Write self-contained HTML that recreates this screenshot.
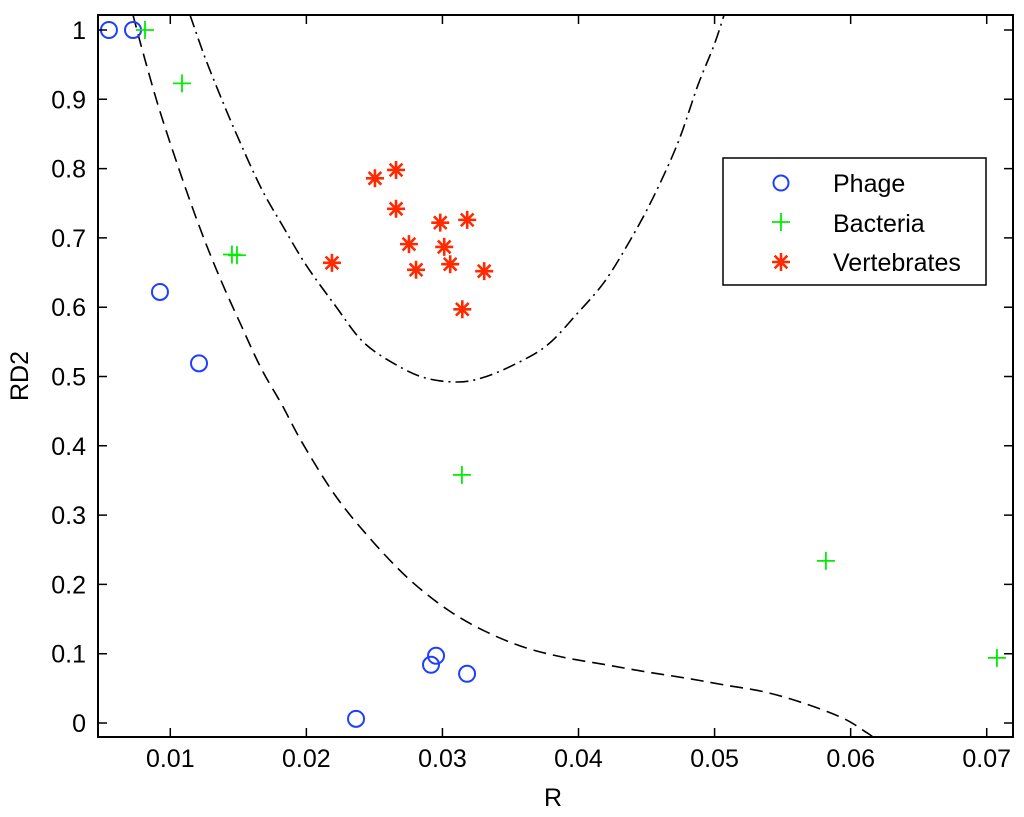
<!DOCTYPE html>
<html><head><meta charset="utf-8"><style>
body{margin:0;background:#fff;}
svg text{font-family:"Liberation Sans",Arial,sans-serif;fill:#000;}
</style></head><body>
<svg id="chart" width="1024" height="812" viewBox="0 0 1024 812" xmlns="http://www.w3.org/2000/svg">
<defs><clipPath id="clip"><rect x="98" y="15" width="915" height="722"/></clipPath></defs>
<g id="curves" clip-path="url(#clip)"></g>
<g id="marks"></g>
<g id="axes"></g>
<text x="553" y="806" font-size="25" text-anchor="middle">R</text>
<text x="0" y="0" font-size="25" text-anchor="middle" transform="translate(28,376) rotate(-90)">RD2</text>
<g>
<rect x="723" y="158" width="263" height="127" fill="#fff" stroke="#000" stroke-width="1.5"/>
<circle cx="781" cy="183" r="7.5" fill="none" stroke="#1f3fff" stroke-width="2"/>
<text x="833" y="192" font-size="25">Phage</text>
<path d="M772 222h18M781 213v18" stroke="#00ee00" stroke-width="1.8"/>
<text x="833" y="232" font-size="25">Bacteria</text>
<g id="legstar"></g>
<text x="833" y="271" font-size="25">Vertebrates</text>
</g>
</svg>
<script>
const phageX=[0.00549,0.00726,0.00924,0.01211,0.02365,0.02916,0.02953,0.03181];
const phageY=[1.0,1.0,0.622,0.519,0.006,0.084,0.097,0.071];
const bactX=[0.00814,0.01086,0.01453,0.0149,0.03143,0.05818,0.07075];
const bactY=[1.0,0.923,0.676,0.675,0.358,0.234,0.094];
const vertX=[0.02504,0.02659,0.02659,0.02754,0.02806,0.02188,0.02984,0.03013,0.03057,0.03182,0.03146,0.03307];
const vertY=[0.786,0.798,0.742,0.691,0.654,0.664,0.722,0.687,0.662,0.726,0.597,0.652];
const dashX=[0.00726,0.00799,0.00917,0.01071,0.01218,0.01365,0.0152,0.01667,0.01821,0.01968,0.0221,0.0246,0.02747,0.03041,0.03328,0.03622,0.0391,0.04204,0.04489,0.04783,0.05069,0.05363,0.05649,0.05943,0.06119,0.06163];
const dashY=[1.0216,0.968,0.887,0.795,0.714,0.642,0.574,0.512,0.459,0.405,0.329,0.268,0.209,0.163,0.131,0.108,0.094,0.084,0.074,0.065,0.055,0.045,0.029,0.007,-0.014,-0.02];
const ddX=[0.01145,0.01248,0.01365,0.0149,0.01667,0.01821,0.01997,0.0221,0.02416,0.02659,0.02872,0.03107,0.03291,0.03526,0.03769,0.03982,0.04188,0.04372,0.04548,0.04732,0.04879,0.04996,0.0507];
const ddY=[1.0216,0.964,0.906,0.848,0.772,0.719,0.661,0.603,0.55,0.517,0.498,0.492,0.498,0.517,0.545,0.589,0.636,0.694,0.758,0.838,0.921,0.978,1.0216];
const xTicks=[0.01,0.02,0.03,0.04,0.05,0.06,0.07];
const xTickLabels=["0.01","0.02","0.03","0.04","0.05","0.06","0.07"];
const yTicks=[0,0.1,0.2,0.3,0.4,0.5,0.6,0.7,0.8,0.9,1];
const yTickLabels=["0","0.1","0.2","0.3","0.4","0.5","0.6","0.7","0.8","0.9","1"];

const NS="http://www.w3.org/2000/svg";
const L=98,R=1013,T=15,B=737;
function sx(v){return 170.3+(v-0.01)*13607;}
function sy(v){return 723-v*693;}
function mk(tag,attrs,parent){const e=document.createElementNS(NS,tag);for(const k in attrs)e.setAttribute(k,attrs[k]);parent.appendChild(e);return e;}
const curves=document.getElementById('curves'),marks=document.getElementById('marks'),axes=document.getElementById('axes');

function line(xs,ys,dash,name){
  const P=xs.map((x,i)=>[sx(x),sy(ys[i])]);
  let d=`M${P[0][0].toFixed(1)} ${P[0][1].toFixed(1)}`;
  for(let i=0;i<P.length-1;i++){
    const p0=P[Math.max(i-1,0)],p1=P[i],p2=P[i+1],p3=P[Math.min(i+2,P.length-1)];
    const c1=[p1[0]+(p2[0]-p0[0])/6,p1[1]+(p2[1]-p0[1])/6];
    const c2=[p2[0]-(p3[0]-p1[0])/6,p2[1]-(p3[1]-p1[1])/6];
    d+=`C${c1[0].toFixed(1)} ${c1[1].toFixed(1)} ${c2[0].toFixed(1)} ${c2[1].toFixed(1)} ${p2[0].toFixed(1)} ${p2[1].toFixed(1)}`;
  }
  const el=mk('path',{d:d,fill:'none',stroke:'#000','stroke-width':1.6,'stroke-dasharray':dash},curves);
  
  
}
line(dashX,dashY,"13 7","dashed-boundary");
line(ddX,ddY,"13 5 2 5","dash-dot-boundary");

phageX.forEach((x,i)=>{
  const c=mk('circle',{cx:sx(x),cy:sy(phageY[i]),r:8,fill:'none',stroke:'#1f3fff','stroke-width':2},marks);
  
  
});
bactX.forEach((x,i)=>{
  const X=sx(x),Y=sy(bactY[i]);
  const p=mk('path',{d:`M${X-9} ${Y}h18M${X} ${Y-9}v18`,stroke:'#00ee00','stroke-width':1.8},marks);
  
  
});
function star(X,Y,parent){
  let d="";const r=9;
  for(let k=0;k<4;k++){const a=k*Math.PI/4;const dx=r*Math.cos(a),dy=r*Math.sin(a);d+=`M${X-dx} ${Y-dy}L${X+dx} ${Y+dy}`;}
  return mk('path',{d:d,stroke:'#ff2a00','stroke-width':2.6},parent);
}
vertX.forEach((x,i)=>{
  const p=star(sx(x),sy(vertY[i]),marks);
  
  
});
star(781,262,document.getElementById('legstar'));

const box=mk('rect',{x:L,y:T,width:R-L,height:B-T,fill:'none',stroke:'#000','stroke-width':2},axes);


xTicks.forEach((v,i)=>{
  const X=sx(v);
  mk('path',{d:`M${X} ${B}v-9M${X} ${T}v9`,stroke:'#000','stroke-width':1.5},axes);
  const t=mk('text',{x:X,y:767,'font-size':25,'text-anchor':'middle'},axes);
  t.textContent=xTickLabels[i];
  
  
});
yTicks.forEach((v,i)=>{
  const Y=sy(v);
  mk('path',{d:`M${L} ${Y}h9M${R} ${Y}h-9`,stroke:'#000','stroke-width':1.5},axes);
  const t=mk('text',{x:86,y:Y+9,'font-size':25,'text-anchor':'end'},axes);
  t.textContent=yTickLabels[i];
  
  
});
</script>
</body></html>
